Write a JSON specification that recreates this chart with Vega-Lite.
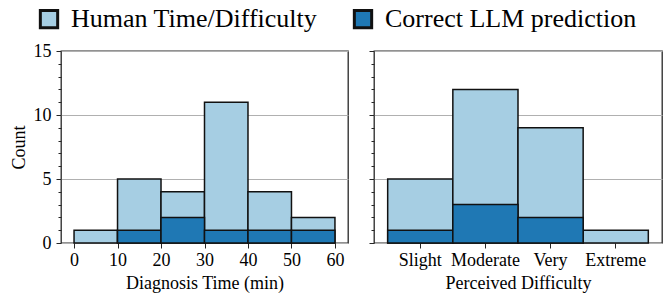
{
  "$schema": "https://vega.github.io/schema/vega-lite/v6.json",
  "padding": {"left": 9, "top": 6, "right": 5, "bottom": 3},
  "datasets": {
    "time": [
      {"series": "Human Time/Difficulty", "lo": 0, "hi": 10, "count": 1},
      {"series": "Human Time/Difficulty", "lo": 10, "hi": 20, "count": 5},
      {"series": "Human Time/Difficulty", "lo": 20, "hi": 30, "count": 4},
      {"series": "Human Time/Difficulty", "lo": 30, "hi": 40, "count": 11},
      {"series": "Human Time/Difficulty", "lo": 40, "hi": 50, "count": 4},
      {"series": "Human Time/Difficulty", "lo": 50, "hi": 60, "count": 2},
      {"series": "Correct LLM prediction", "lo": 10, "hi": 20, "count": 1},
      {"series": "Correct LLM prediction", "lo": 20, "hi": 30, "count": 2},
      {"series": "Correct LLM prediction", "lo": 30, "hi": 40, "count": 1},
      {"series": "Correct LLM prediction", "lo": 40, "hi": 50, "count": 1},
      {"series": "Correct LLM prediction", "lo": 50, "hi": 60, "count": 1}
    ],
    "difficulty": [
      {"series": "Human Time/Difficulty", "cat": "Slight", "count": 5},
      {"series": "Human Time/Difficulty", "cat": "Moderate", "count": 12},
      {"series": "Human Time/Difficulty", "cat": "Very", "count": 9},
      {"series": "Human Time/Difficulty", "cat": "Extreme", "count": 1},
      {"series": "Correct LLM prediction", "cat": "Slight", "count": 1},
      {"series": "Correct LLM prediction", "cat": "Moderate", "count": 3},
      {"series": "Correct LLM prediction", "cat": "Very", "count": 2}
    ]
  },
  "config": {
    "font": "Liberation Serif",
    "view": {"stroke": "#262626", "strokeWidth": 1.3},
    "axis": {
      "labelFont": "Liberation Serif",
      "titleFont": "Liberation Serif",
      "labelFontSize": 18,
      "titleFontSize": 18,
      "titleFontWeight": "normal",
      "labelColor": "#000",
      "titleColor": "#000",
      "tickColor": "#262626",
      "tickWidth": 1,
      "domain": false,
      "grid": false
    },
    "legend": {
      "labelFont": "Liberation Serif",
      "labelFontSize": 26,
      "labelColor": "#000",
      "labelLimit": 500,
      "layout": {"top": {"anchor": "middle"}}
    }
  },
  "spacing": 18,
  "hconcat": [
    {
      "width": 287,
      "height": 192,
      "data": {"name": "time"},
      "mark": {"type": "bar", "stroke": "#111", "strokeWidth": 1.5},
      "encoding": {
        "x": {
          "field": "lo",
          "type": "quantitative",
          "scale": {"domain": [-3, 63], "nice": false, "zero": false},
          "axis": {"values": [0, 10, 20, 30, 40, 50, 60], "title": "Diagnosis Time (min)", "tickSize": 5, "labelPadding": 3, "titlePadding": 5}
        },
        "x2": {"field": "hi"},
        "y": {
          "field": "count",
          "type": "quantitative",
          "stack": null,
          "scale": {"domain": [0, 15], "nice": false},
          "axis": {
            "title": "Count",
            "values": [0, 1, 2, 3, 4, 5, 6, 7, 8, 9, 10, 11, 12, 13, 14, 15],
            "labelExpr": "datum.value % 5 === 0 ? datum.label : ''",
            "tickSize": {"condition": {"test": "datum.value % 5 === 0", "value": 5}, "value": 3},
            "grid": true,
            "gridColor": "#b0b0b0",
            "gridWidth": 1.2,
            "gridOpacity": {"condition": {"test": "datum.value % 5 === 0", "value": 1}, "value": 0},
            "labelPadding": 5,
            "titlePadding": 5
          }
        },
        "y2": {"datum": 0},
        "color": {
          "field": "series",
          "type": "nominal",
          "scale": {"domain": ["Human Time/Difficulty", "Correct LLM prediction"], "range": ["#a6cee3", "#1f78b4"]},
          "legend": {
            "orient": "top",
            "direction": "horizontal",
            "title": null,
            "symbolType": "square",
            "symbolSize": 300,
            "symbolStrokeColor": "#333",
            "symbolStrokeWidth": 3,
            "symbolOpacity": 1,
            "labelOffset": 9,
            "columnPadding": 30,
            "offset": 7
          }
        }
      }
    },
    {
      "width": 288,
      "height": 192,
      "data": {"name": "difficulty"},
      "mark": {"type": "bar", "stroke": "#111", "strokeWidth": 1.5},
      "encoding": {
        "x": {
          "field": "cat",
          "type": "nominal",
          "sort": ["Slight", "Moderate", "Very", "Extreme"],
          "scale": {"paddingInner": 0, "paddingOuter": 0.21},
          "axis": {"title": "Perceived Difficulty", "labelAngle": 0, "tickSize": 5, "labelPadding": 3, "titlePadding": 5}
        },
        "y": {
          "field": "count",
          "type": "quantitative",
          "stack": null,
          "scale": {"domain": [0, 15], "nice": false},
          "axis": {
            "title": null,
            "values": [0, 1, 2, 3, 4, 5, 6, 7, 8, 9, 10, 11, 12, 13, 14, 15],
            "labels": false,
            "tickSize": {"condition": {"test": "datum.value % 5 === 0", "value": 5}, "value": 3},
            "grid": true,
            "gridColor": "#b0b0b0",
            "gridWidth": 1.2,
            "gridOpacity": {"condition": {"test": "datum.value % 5 === 0", "value": 1}, "value": 0}
          }
        },
        "color": {
          "field": "series",
          "type": "nominal",
          "scale": {"domain": ["Human Time/Difficulty", "Correct LLM prediction"], "range": ["#a6cee3", "#1f78b4"]}
        }
      }
    }
  ]
}
